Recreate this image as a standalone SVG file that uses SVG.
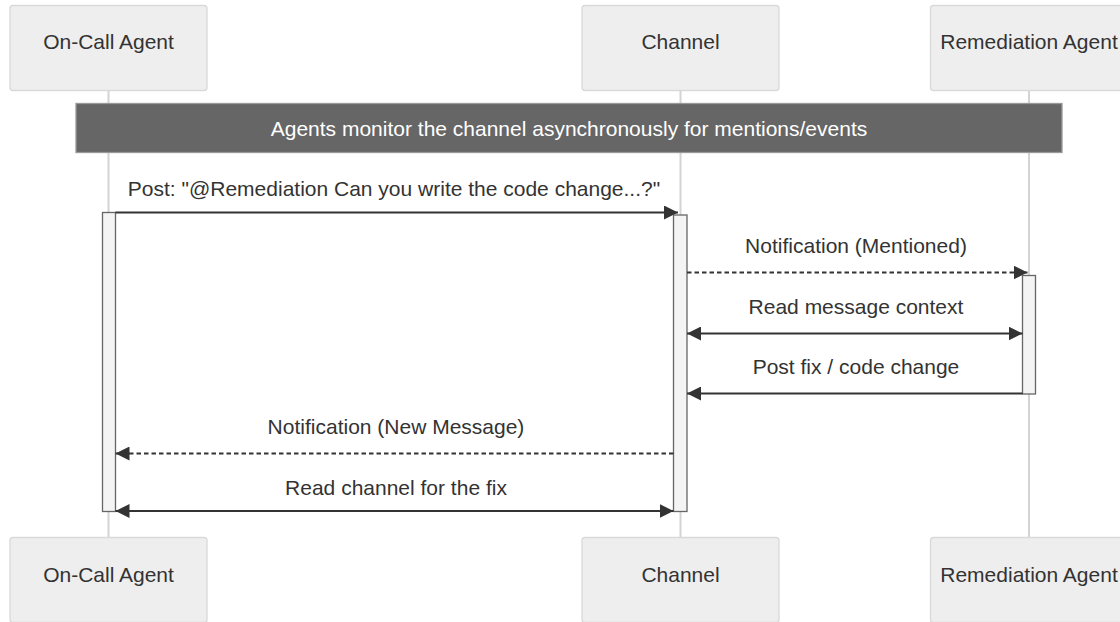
<svg xmlns="http://www.w3.org/2000/svg" width="1120" height="622" viewBox="0 0 1120 622">
  <defs>
    <marker id="arrow" viewBox="0 0 14 14" refX="14" refY="7" markerWidth="14" markerHeight="14" markerUnits="userSpaceOnUse" orient="auto-start-reverse">
      <path d="M0,0 L14,7 L0,14 z" fill="#333"/>
    </marker>
  </defs>
  <style>
    .actor { fill: #eeeeee; stroke: #d9d9d9; stroke-width: 1.3; }
    .actor-text { font-family: "Liberation Sans", Arial, sans-serif; font-size: 21px; fill: #333; text-anchor: middle; }
    .lifeline { stroke: #d3d3d3; stroke-width: 2; }
    .note { fill: #666666; stroke: #999999; stroke-width: 1.3; }
    .note-text { font-family: "Liberation Sans", Arial, sans-serif; font-size: 21px; fill: #ffffff; text-anchor: middle; }
    .act { fill: #f4f4f4; stroke: #666666; stroke-width: 1.3; }
    .msg { stroke: #333; stroke-width: 2; fill: none; }
    .dotted { stroke-dasharray: 4.5 3; }
    .msg-text { font-family: "Liberation Sans", Arial, sans-serif; font-size: 21px; fill: #333; text-anchor: middle; }
  </style>
  <rect width="1120" height="622" fill="#ffffff"/>

  <g id="lifelines">
    <line class="lifeline" x1="108.5" y1="90" x2="108.5" y2="537"/>
    <line class="lifeline" x1="680.5" y1="90" x2="680.5" y2="537"/>
    <line class="lifeline" x1="1029" y1="90" x2="1029" y2="537"/>
  </g>

  <g id="actor-oncall-top">
    <rect class="actor" x="10" y="5.5" width="197" height="85" rx="3"/>
    <text class="actor-text" x="108.5" y="49">On-Call Agent</text>
  </g>
  <g id="actor-channel-top">
    <rect class="actor" x="582" y="5.5" width="197" height="85" rx="3"/>
    <text class="actor-text" x="680.5" y="49">Channel</text>
  </g>
  <g id="actor-remediation-top">
    <rect class="actor" x="930.5" y="5.5" width="197" height="85" rx="3"/>
    <text class="actor-text" x="1029" y="49">Remediation Agent</text>
  </g>

  <g id="note">
    <rect class="note" x="76" y="103.5" width="986" height="49"/>
    <text class="note-text" x="569" y="135.5">Agents monitor the channel asynchronously for mentions/events</text>
  </g>

  <g id="activations">
    <rect id="act-oncall" class="act" x="102.5" y="212.5" width="13" height="299"/>
    <rect id="act-channel" class="act" x="673.5" y="215" width="13.5" height="296.5"/>
    <rect id="act-remediation" class="act" x="1022.5" y="275.5" width="13" height="118.5"/>
  </g>

  <g id="connectors">
    <line class="msg" x1="115.5" y1="212.5" x2="678" y2="212.5" marker-end="url(#arrow)"/>
    <line class="msg dotted" x1="687" y1="272.5" x2="1027.5" y2="272.5" marker-end="url(#arrow)"/>
    <line class="msg" x1="687" y1="333.5" x2="1022.5" y2="333.5" marker-start="url(#arrow)" marker-end="url(#arrow)"/>
    <line class="msg" x1="1022.5" y1="393.5" x2="687" y2="393.5" marker-end="url(#arrow)"/>
    <line class="msg dotted" x1="673.5" y1="453.5" x2="115.5" y2="453.5" marker-end="url(#arrow)"/>
    <line class="msg" x1="115.5" y1="511" x2="673.5" y2="511" marker-start="url(#arrow)" marker-end="url(#arrow)"/>
  </g>

  <g id="labels">
    <text class="msg-text" x="394" y="196">Post: "@Remediation Can you write the code change...?"</text>
    <text class="msg-text" x="856" y="253">Notification (Mentioned)</text>
    <text class="msg-text" x="856" y="314">Read message context</text>
    <text class="msg-text" x="856" y="374">Post fix / code change</text>
    <text class="msg-text" x="396" y="434">Notification (New Message)</text>
    <text class="msg-text" x="396" y="495">Read channel for the fix</text>
  </g>

  <g id="actor-oncall-bottom">
    <rect class="actor" x="10" y="537.5" width="197" height="85" rx="3"/>
    <text class="actor-text" x="108.5" y="581.5">On-Call Agent</text>
  </g>
  <g id="actor-channel-bottom">
    <rect class="actor" x="582" y="537.5" width="197" height="85" rx="3"/>
    <text class="actor-text" x="680.5" y="581.5">Channel</text>
  </g>
  <g id="actor-remediation-bottom">
    <rect class="actor" x="930.5" y="537.5" width="197" height="85" rx="3"/>
    <text class="actor-text" x="1029" y="581.5">Remediation Agent</text>
  </g>
</svg>
